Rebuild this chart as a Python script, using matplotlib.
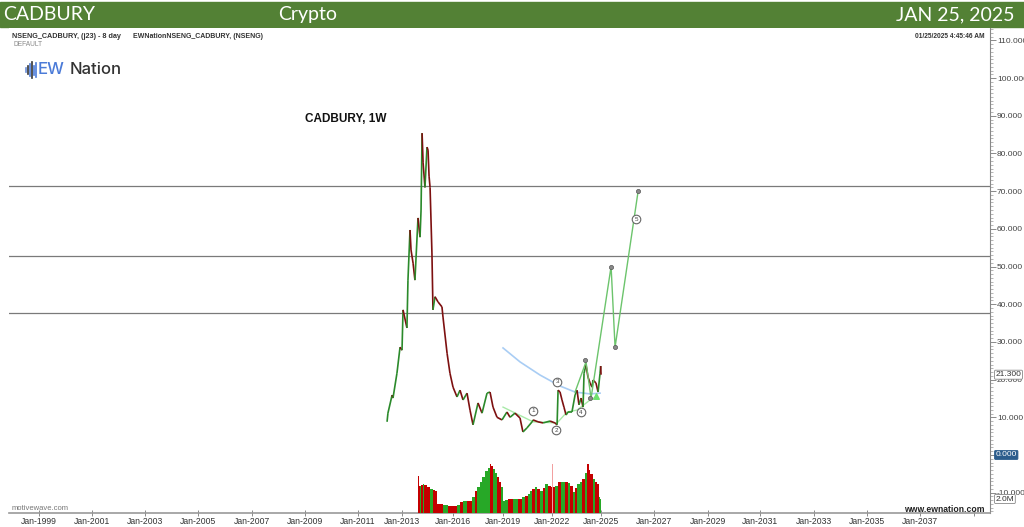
import numpy as np
import matplotlib
matplotlib.use("Agg")
import matplotlib.pyplot as plt
from matplotlib.patches import Rectangle
from matplotlib.lines import Line2D

plt.rcParams['font.family'] = ['Liberation Sans', 'DejaVu Sans']

# ---- data ----
price_years = [2012.32, 2012.36, 2012.55, 2012.59, 2012.77, 2012.91, 2013.00, 2013.06, 2013.29, 2013.35,
               2013.47, 2013.53, 2013.65, 2013.76, 2013.94, 2014.06, 2014.12, 2014.18, 2014.24, 2014.35,
               2014.47, 2014.53, 2014.59, 2014.65, 2014.76, 2014.82, 2014.94, 2015.12, 2015.35, 2015.41,
               2015.65, 2015.82, 2016.00, 2016.24, 2016.42, 2016.60, 2016.84, 2017.02, 2017.20, 2017.50,
               2017.74, 2018.04, 2018.22, 2018.40, 2018.64, 2018.94, 2019.24, 2019.43, 2019.73, 2020.04,
               2020.22, 2020.47, 2020.78, 2020.84, 2021.14, 2021.45, 2021.88, 2022.18, 2022.31, 2022.37,
               2022.49, 2022.61, 2022.73, 2022.86, 2022.98, 2023.22, 2023.41, 2023.53, 2023.65, 2023.78,
               2023.90, 2023.96, 2024.08, 2024.20, 2024.33, 2024.45, 2024.51, 2024.69, 2024.82, 2024.94,
               2024.98, 2025.00]
price_vals = [8.8, 11.1, 15.9, 15.1, 21.7, 28.6, 27.8, 38.5, 33.7, 46.4,
              59.7, 54.4, 50.9, 46.4, 62.9, 57.8, 65.0, 85.4, 77.5, 71.0,
              81.7, 80.9, 74.0, 71.0, 53.6, 38.5, 42.0, 40.6, 39.3, 36.6,
              27.0, 21.7, 18.0, 15.4, 17.2, 14.6, 16.4, 11.9, 8.0, 13.8,
              11.1, 16.4, 16.7, 12.7, 10.0, 9.3, 11.4, 10.0, 11.1, 9.8,
              6.1, 7.2, 8.8, 9.3, 8.8, 8.5, 9.0, 8.5, 8.0, 17.2,
              16.7, 14.6, 12.7, 10.6, 11.4, 11.4, 15.9, 17.2, 13.3, 15.1,
              12.7, 21.7, 23.9, 20.7, 19.1, 18.0, 19.9, 19.1, 16.7, 21.7,
              23.6, 21.3]
last_price = 21.3

vol_years = [2013.94, 2014.00, 2014.06, 2014.12, 2014.24, 2014.30, 2014.47, 2014.65, 2014.80, 2014.94,
             2015.08, 2015.41, 2015.70, 2016.00, 2016.25, 2016.42, 2016.60, 2016.84, 2017.14, 2017.30,
             2017.44, 2017.60, 2017.74, 2017.92, 2018.10, 2018.22, 2018.30, 2018.40, 2018.52, 2018.64,
             2018.76, 2018.88, 2019.00, 2019.10, 2019.31, 2019.60, 2019.92, 2020.15, 2020.35, 2020.50,
             2020.65, 2020.80, 2020.96, 2021.10, 2021.27, 2021.42, 2021.57, 2021.76, 2021.94, 2022.00,
             2022.06, 2022.18, 2022.37, 2022.55, 2022.80, 2022.95, 2023.10, 2023.29, 2023.40, 2023.53,
             2023.70, 2023.84, 2024.00, 2024.14, 2024.25, 2024.33, 2024.51, 2024.65, 2024.76, 2024.88,
             2024.94]
vol_end = 2025.0
# volume in millions
vol_m = [5.3, 3.8, 3.85, 3.95, 4.1, 3.95, 3.7, 3.45, 3.25, 3.2,
         1.3, 1.1, 1.0, 1.0, 1.1, 1.55, 1.65, 1.7, 2.3, 3.1,
         3.7, 4.45, 5.15, 6.0, 6.5, 7.0, 6.7, 6.25, 5.65, 5.15,
         4.45, 3.7, 1.7, 1.9, 2.0, 2.0, 2.0, 2.25, 2.4, 2.75,
         3.2, 3.45, 3.7, 3.45, 3.2, 3.6, 4.1, 3.85, 3.7, 7.0,
         3.7, 3.85, 4.45, 4.45, 4.45, 4.3, 3.85, 3.0, 3.6, 4.1,
         4.45, 4.9, 5.65, 7.0, 6.15, 5.55, 4.9, 4.45, 4.1, 2.3,
         2.0]
vol_dir = list("rrgrgrrgrr" "rgrrgrgrgr" "gggggrrggr"
               "rgggrgrgrg" "grgrgrgrrp" "rgrgrgrgrg" "grgrrrgrrg" "g")

levels = [71.3, 52.7, 37.6]

proj_years = [2023.41, 2024.08, 2024.39, 2025.38, 2025.53, 2026.40]
proj_vals = [16.7, 24.7, 15.1, 50.0, 28.6, 70.0]

trend_years = [2019.0, 2020.84, 2022.31, 2022.92, 2023.53, 2024.33, 2024.75]
trend_vals = [12.7, 8.8, 8.5, 11.4, 11.9, 14.6, 15.4]

arc_years = [2019.0, 2020.04, 2021.27, 2022.49, 2023.41, 2024.33, 2024.94]
arc_vals = [28.4, 24.7, 21.2, 18.3, 16.7, 16.2, 16.4]

wave_labels = ["1", "2", "3", "4", "5"]
wave_years = [2020.84, 2022.24, 2022.31, 2023.78, 2026.32]
wave_vals = [11.7, 6.6, 19.4, 11.4, 62.6]

dot_years = [2024.02, 2024.33, 2025.38, 2025.53, 2026.40]
dot_vals = [25.2, 15.1, 49.9, 28.6, 70.0]

tri_year, tri_val = 2024.69, 15.6

tick_years = [1999, 2001, 2003, 2005, 2007, 2009, 2011, 2013, 2016, 2019,
              2022, 2025, 2027, 2029, 2031, 2033, 2035, 2037]

# ---- time axis: MotiveWave compresses the bar-filled span ----
axis_years = [1990] + tick_years + [2045]
axis_px = [-199.5, 39, 92, 145, 198, 252, 305, 358, 402, 453, 503,
           552, 601, 654, 708, 760, 814, 867, 920, 1132]


def fwd(y):
    return np.interp(y, axis_years, axis_px)


def inv(p):
    return np.interp(p, axis_px, axis_years)


W, H = 1024, 527
fig = plt.figure(figsize=(W / 100, H / 100), dpi=100)
ax = fig.add_axes([9 / W, 14 / H, 981 / W, 485 / H])
ax.set_xscale('function', functions=(fwd, inv))
ax.set_xlim(1997.868, 2039.64)
ax.set_ylim(-15.4, 113.3)

# volume on its own hidden scale (twinx first: it resets the host's tick side)
ax2 = ax.twinx()
ax2.set_ylim(0, 69.3)
ax2.set_yticks([])
for s in ax2.spines.values():
    s.set_visible(False)

for s in ['left', 'top']:
    ax.spines[s].set_visible(False)
ax.spines['right'].set_color('#888888')
ax.spines['bottom'].set_color('#999999')
ax.spines['bottom'].set_linewidth(1.2)

ax.yaxis.tick_right()
ax.set_yticks(np.arange(-10, 111, 10))
ax.set_yticklabels([f"{v:.3f}" for v in np.arange(-10, 111, 10)])
ax.set_yticks(np.arange(-15, 114, 1), minor=True)
ax.tick_params(axis='y', which='major', length=4, width=0.6, color='#777777',
               labelsize=6, labelcolor='#444444', pad=1, right=True, left=False)
ax.tick_params(axis='y', which='minor', length=2, width=0.5, color='#999999',
               right=True, left=False)

ax.set_xticks(tick_years + [2039.04])
ax.set_xticklabels([f"Jan-{y}" for y in tick_years] + [""])
ax.set_xticks([], minor=True)
ax.tick_params(axis='x', which='major', direction='inout', length=5, width=0.6,
               color='#777777', labelsize=6.2, labelcolor='#333333', pad=0.3)

for lv in levels:
    ax.axhline(lv, color='#7a7a7a', lw=0.9, zorder=1)

# price line coloured by direction
for i in range(len(price_years) - 1):
    up = price_vals[i + 1] >= price_vals[i]
    ax.plot(price_years[i:i + 2], price_vals[i:i + 2],
            color='#2b8a2b' if up else '#7d1010', lw=1.2, zorder=4,
            solid_capstyle='butt')

ax.plot(arc_years, arc_vals, color='#a9cdf4', lw=1.2, zorder=3)
ax.plot(trend_years, trend_vals, color='#a8eaa8', lw=1.0, zorder=3)
ax.plot(proj_years, proj_vals, color='#6cc46c', lw=1.0, zorder=5)

ax.scatter(dot_years, dot_vals, s=9, color='#8a8a8a', edgecolors='#555555',
           linewidths=0.5, zorder=6)
ax.scatter([tri_year], [tri_val], marker='^', s=16, color='#6ee06e', zorder=6)
ax.scatter(wave_years, wave_vals, s=38, facecolors='white', edgecolors='#666666',
           linewidths=0.8, zorder=6)
for lab, x, y in zip(wave_labels, wave_years, wave_vals):
    ax.text(x, y, lab, fontsize=4.5, color='#444444', ha='center', va='center', zorder=7)

vol_cols = {'r': '#c40000', 'g': '#27a827', 'p': '#f2a0a0'}
edges = vol_years + [vol_end]
for i, v in enumerate(vol_m):
    x0, x1 = edges[i], edges[i + 1]
    if vol_dir[i] == 'p':
        x1 = x0 + 0.03
    ax2.bar(x0, v, width=x1 - x0, align='edge', color=vol_cols[vol_dir[i]],
            linewidth=0)

# value tags on the price scale
ax.annotate(f"{last_price:.3f}", xy=(1, last_price), xycoords=('axes fraction', 'data'),
            xytext=(4, 0), textcoords='offset points', ha='left', va='center',
            fontsize=6, color='#333333', annotation_clip=False, zorder=10,
            bbox=dict(boxstyle='round,pad=0.12', fc='white', ec='#888888', lw=0.6))
ax.annotate("0.000", xy=(1, 0), xycoords=('axes fraction', 'data'),
            xytext=(4, 0), textcoords='offset points', ha='left', va='center',
            fontsize=6, color='white', annotation_clip=False, zorder=10,
            bbox=dict(boxstyle='round,pad=0.12', fc='#2b5c8c', ec='#2b5c8c', lw=0.6))
ax2.annotate(f"{vol_m[-1]:.1f}M", xy=(1, vol_m[-1]), xycoords=('axes fraction', 'data'),
             xytext=(4, 0), textcoords='offset points', ha='left', va='center',
             fontsize=6, color='#333333', annotation_clip=False, zorder=10,
             bbox=dict(boxstyle='round,pad=0.12', fc='white', ec='#888888', lw=0.6))

# header band
fig.add_artist(Rectangle((0, 1 - 27 / H), 1, 25 / H, transform=fig.transFigure,
                         color='#538135', zorder=0))
hdr = dict(color='white', fontsize=14, va='center', family='Lato')
fig.text(3 / W, 1 - 14.5 / H, "CADBURY", ha='left', **hdr)
fig.text(308 / W, 1 - 14.5 / H, "Crypto", ha='center', **hdr)
fig.text(1015 / W, 1 - 14.5 / H, "JAN 25, 2025", ha='right', **hdr)

fig.text(12 / W, 1 - 36 / H, "NSENG_CADBURY, (j23) - 8 day", fontsize=5.2,
         fontweight='bold', color='#333333', va='center')
fig.text(133 / W, 1 - 36 / H, "EWNationNSENG_CADBURY, (NSENG)", fontsize=5.0,
         fontweight='bold', color='#333333', va='center')
fig.text(14 / W, 1 - 44 / H, "DEFAULT", fontsize=4.8, color='#888888', va='center')
fig.text(985 / W, 1 - 36 / H, "01/25/2025 4:45:46 AM", fontsize=4.8,
         fontweight='bold', color='#333333', va='center', ha='right')

# logo
bar_x = [26, 28, 30, 32, 34, 36]
bar_h = [4, 8, 12, 16, 9, 14]
bar_c = ['#6b8fd8', '#333333', '#4b7bd8', '#333333', '#4b7bd8', '#4b7bd8']
for bx, bh, bc in zip(bar_x, bar_h, bar_c):
    fig.add_artist(Line2D([bx / W, bx / W], [1 - (70 + bh / 2) / H, 1 - (70 - bh / 2) / H],
                          transform=fig.transFigure, color=bc, lw=1.2))
fig.text(38 / W, 1 - 70 / H, "EW", fontsize=12, color='#4b7bd8', va='center',
         family='Inter', fontweight='medium')
fig.text(70 / W, 1 - 70 / H, "Nation", fontsize=12, color='#333333', va='center',
         family='Inter', fontweight='medium')

fig.text(346 / W, 1 - 119 / H, "CADBURY, 1W", fontsize=8.5, fontweight='bold',
         color='#111111', ha='center', va='center')
fig.text(12 / W, 1 - 508 / H, "motivewave.com", fontsize=5.5, color='#777777', va='center')
fig.text(985 / W, 1 - 510 / H, "www.ewnation.com", fontsize=6.2, fontweight='bold',
         color='#222222', va='center', ha='right')

fig.savefig("out.png", dpi=100)
